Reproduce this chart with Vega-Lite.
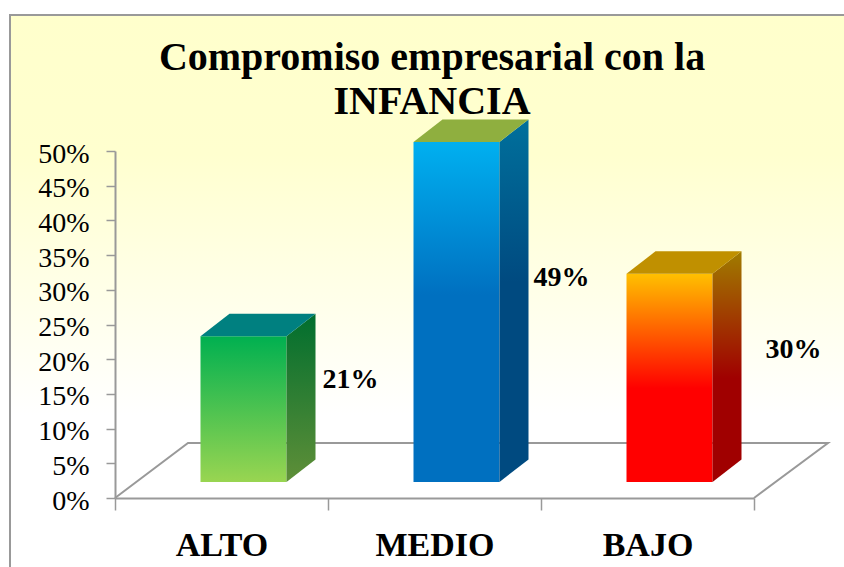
{
"$schema":"https://vega.github.io/schema/vega-lite/v6.json",
"width":838,"height":556,
"autosize":{"type":"none"},
"padding":{"left":10,"top":15,"right":0,"bottom":0},
"background":"white",
"config":{"view":{"fill":{"gradient":"linear","x1":0,"y1":0,"x2":0,"y2":1,"stops":[{"offset":0,"color":"#FFFFCC"},{"offset":0.25,"color":"#FFFFCF"},{"offset":0.72,"color":"#FFFFFF"},{"offset":1,"color":"#FFFFFF"}]},"stroke":"#999999","strokeWidth":2}},
"title":{"text":["Compromiso empresarial con la","INFANCIA"],"font":"Liberation Serif","fontSize":40,"fontWeight":"bold","color":"#000000","anchor":"middle","frame":"group","offset":-107,"dx":3,"lineHeight":44,"baseline":"top","dy":0},
"data":{"values":[{"nivel":"ALTO","valor":0.21},{"nivel":"MEDIO","valor":0.49},{"nivel":"BAJO","valor":0.30}]},
"encoding":{
"x":{"field":"nivel","type":"nominal","sort":["ALTO","MEDIO","BAJO"],"title":null,
"scale":{"range":[105,744],"paddingInner":0,"paddingOuter":0},
"axis":{"orient":"bottom","offset":-73,"labelAngle":0,"labelFont":"Liberation Serif","labelFontSize":34,"labelFontWeight":"bold","labelColor":"#000000","labelPadding":18,"domainColor":"#999999","domainWidth":2,"tickColor":"#999999","tickWidth":1.5,"tickSize":12,"tickBand":"extent","grid":false}},
"y":{"field":"valor","type":"quantitative","title":null,
"scale":{"domain":[0,0.5],"range":[483,136],"nice":false},
"axis":{"orient":"left","offset":-105,"format":".0%","values":[0,0.05,0.1,0.15,0.2,0.25,0.3,0.35,0.4,0.45,0.5],"labelFont":"Liberation Serif","labelFontSize":28,"labelColor":"#000000","labelPadding":17,"labelOffset":3,"domainColor":"#999999","domainWidth":2,"tickColor":"#999999","tickWidth":1.5,"tickSize":9,"grid":false}}
},
"layer":[
{"transform":[{"filter":"datum.nivel==='MEDIO'"}],
"mark":{"type":"point","shape":"M-319.5,0 L-246.5,-55 L393.5,-55 L319.5,0","size":4,"filled":false,"stroke":"#999999","strokeWidth":2,"opacity":1},
"encoding":{"y":{"datum":0}}},

{"transform":[{"filter":"datum.nivel==='ALTO'"}],"layer":[
{"mark":{"type":"bar","size":86,"xOffset":22,"yOffset":-16,"fill":{"gradient":"linear","x1":0,"y1":0,"x2":0,"y2":1,"stops":[{"offset":0,"color":"#00B050"},{"offset":1,"color":"#99D551"}]}}},
{"mark":{"type":"point","xOffset":22,"yOffset":-16,"size":4,"filled":true,"opacity":1,"shape":"M43,0 L72,-22.5 L72,123.2 L43,145.7 Z","fill":{"gradient":"linear","x1":0,"y1":0,"x2":0,"y2":1,"stops":[{"offset":0,"color":"#006E2E"},{"offset":1,"color":"#5F8F38"}]}}},
{"mark":{"type":"point","xOffset":22,"yOffset":-16,"size":4,"filled":true,"opacity":1,"shape":"M-43,0 L-14,-22.5 L72,-22.5 L43,0 Z","fill":"#008080"}},
{"mark":{"type":"text","xOffset":129,"yOffset":28,"font":"Liberation Serif","fontSize":28,"fontWeight":"bold","color":"#000000"},"encoding":{"text":{"field":"valor","type":"quantitative","format":".0%"}}}
]},

{"transform":[{"filter":"datum.nivel==='MEDIO'"}],"layer":[
{"mark":{"type":"bar","size":86,"xOffset":22,"yOffset":-16,"fill":{"gradient":"linear","x1":0,"y1":0,"x2":0,"y2":1,"stops":[{"offset":0,"color":"#00B0F0"},{"offset":0.45,"color":"#0070C0"},{"offset":1,"color":"#0070C0"}]}}},
{"mark":{"type":"point","xOffset":22,"yOffset":-16,"size":4,"filled":true,"opacity":1,"shape":"M43,0 L72,-22.5 L72,317.5 L43,340 Z","fill":{"gradient":"linear","x1":0,"y1":0,"x2":0,"y2":1,"stops":[{"offset":0,"color":"#00709C"},{"offset":0.45,"color":"#004A80"},{"offset":1,"color":"#004A80"}]}}},
{"mark":{"type":"point","xOffset":22,"yOffset":-16,"size":4,"filled":true,"opacity":1,"shape":"M-43,0 L-14,-22.5 L72,-22.5 L43,0 Z","fill":"#8FAF3F"}},
{"mark":{"type":"text","xOffset":127,"yOffset":120,"font":"Liberation Serif","fontSize":28,"fontWeight":"bold","color":"#000000"},"encoding":{"text":{"field":"valor","type":"quantitative","format":".0%"}}}
]},

{"transform":[{"filter":"datum.nivel==='BAJO'"}],"layer":[
{"mark":{"type":"bar","size":86,"xOffset":22,"yOffset":-16,"fill":{"gradient":"linear","x1":0,"y1":0,"x2":0,"y2":1,"stops":[{"offset":0,"color":"#FFC000"},{"offset":0.55,"color":"#FF0000"},{"offset":1,"color":"#FF0000"}]}}},
{"mark":{"type":"point","xOffset":22,"yOffset":-16,"size":4,"filled":true,"opacity":1,"shape":"M43,0 L72,-22.5 L72,185.7 L43,208.2 Z","fill":{"gradient":"linear","x1":0,"y1":0,"x2":0,"y2":1,"stops":[{"offset":0,"color":"#A07C00"},{"offset":0.55,"color":"#A00000"},{"offset":1,"color":"#A00000"}]}}},
{"mark":{"type":"point","xOffset":22,"yOffset":-16,"size":4,"filled":true,"opacity":1,"shape":"M-43,0 L-14,-22.5 L72,-22.5 L43,0 Z","fill":"#C09000"}},
{"mark":{"type":"text","xOffset":146,"yOffset":60,"font":"Liberation Serif","fontSize":28,"fontWeight":"bold","color":"#000000"},"encoding":{"text":{"field":"valor","type":"quantitative","format":".0%"}}}
]}
]
}
